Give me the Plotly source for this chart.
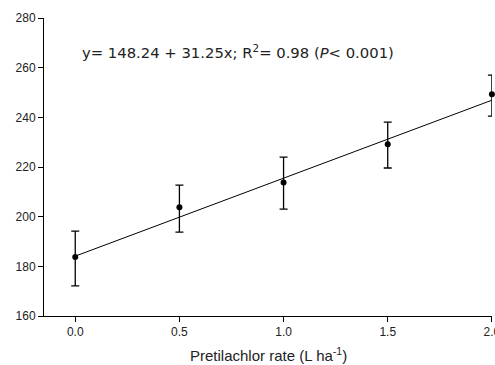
import plotly.graph_objects as go

rate = [0.0, 0.5, 1.0, 1.5, 2.0]
value = [183.8, 203.8, 213.8, 229.2, 249.3]
err_plus = [10.4, 8.9, 10.2, 8.9, 7.7]
err_minus = [11.7, 10.0, 10.8, 9.6, 8.8]
fit_x = [0.0, 2.0]
fit_y = [184.1, 246.9]
x_ticks = [0.0, 0.5, 1.0, 1.5, 2.0]
x_tick_labels = ["0.0", "0.5", "1.0", "1.5", "2.0"]
y_ticks = [160, 180, 200, 220, 240, 260, 280]

fig = go.Figure()
fig.add_trace(go.Scatter(x=fit_x, y=fit_y, mode="lines",
                         line=dict(color="black", width=1), showlegend=False))
fig.add_trace(go.Scatter(
    x=rate, y=value, mode="markers",
    marker=dict(color="black", size=6),
    error_y=dict(type="data", symmetric=False, array=err_plus, arrayminus=err_minus,
                 color="black", thickness=1.3, width=4),
    showlegend=False, cliponaxis=False))

font = "Liberation Sans, Arial, sans-serif"
fig.update_layout(
    width=495, height=365,
    margin=dict(l=44, r=3, t=18, b=49),
    paper_bgcolor="white", plot_bgcolor="white",
    font=dict(family=font, color="black", size=12),
    xaxis=dict(range=[-0.15, 2.0005], tickvals=x_ticks, ticktext=x_tick_labels,
               showgrid=False, zeroline=False, showline=True, linecolor="black",
               linewidth=1, ticks="outside", ticklen=5, tickcolor="black",
               ticklabeloverflow="allow", automargin=False,
               tickfont=dict(size=12, color="#222")),
    yaxis=dict(range=[160, 280], tickvals=y_ticks, automargin=False,
               showgrid=False, zeroline=False, showline=True, linecolor="black",
               linewidth=1, ticks="outside", ticklen=5, tickcolor="black",
               tickfont=dict(size=12, color="#222")),
    annotations=[
        dict(text="y= 148.24 + 31.25x; R<sup>2</sup>= 0.98 (<i>P</i>< 0.001)",
             xref="paper", yref="paper", x=(80 - 44) / 448, y=(316 - 51) / 298,
             xanchor="left", yanchor="middle", showarrow=False,
             font=dict(size=14.8, family="DejaVu Sans, sans-serif", color="#222")),
        dict(text="Pretilachlor rate (L ha<sup>-1</sup>)",
             xref="paper", yref="paper", x=(268 - 44) / 448, y=-(354 - 316) / 298,
             xanchor="center", yanchor="middle", showarrow=False,
             font=dict(size=15, family=font, color="#222")),
    ],
)
fig.write_html("out.html", post_script="document.body.style.margin='0';",
               config={"displayModeBar": False})
